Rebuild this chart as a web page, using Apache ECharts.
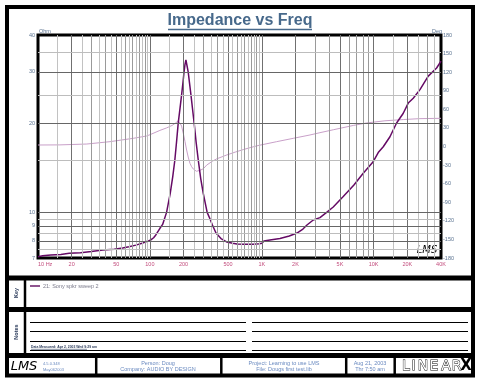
<!DOCTYPE html>
<html>
<head>
<meta charset="utf-8">
<script src="https://cdn.jsdelivr.net/npm/echarts@6/dist/echarts.min.js"></script>
<style>html,body{margin:0;padding:0;background:#fff}#c{width:480px;height:384px}</style>
</head>
<body>
<div id="c"></div>
<script>
// ---- data ----
const impedanceFreqHz = [10, 11, 13, 16, 19, 24, 30, 38, 48, 57, 65, 75, 85, 92, 97, 102, 108, 113, 123, 130, 141, 152, 160, 167, 173, 179, 186, 192, 198, 202, 206, 210, 214, 220, 226, 233, 241, 249, 259, 271, 285, 300, 325, 345, 362, 390, 432, 489, 550, 600, 700, 834, 950, 1004, 1046, 1183, 1455, 1762, 2064, 2334, 2535, 2886, 3312, 3800, 4355, 5350, 6664, 8070, 9860, 10990, 12190, 13990, 16040, 18400, 20380, 22590, 25940, 30760, 36560, 40000];
const impedanceOhm = [7.07, 7.12, 7.17, 7.2, 7.26, 7.3, 7.36, 7.45, 7.5, 7.57, 7.64, 7.74, 7.85, 7.95, 8.0, 8.06, 8.2, 8.38, 8.83, 9.1, 10.0, 11.6, 13.2, 15, 17.3, 20, 22.6, 25, 27.8, 30, 31.8, 32.9, 32.5, 30, 27.5, 25, 22.3, 20, 17.3, 15, 13, 11.6, 10, 9.5, 9.06, 8.51, 8.15, 7.93, 7.85, 7.81, 7.79, 7.79, 7.82, 7.85, 7.99, 8.06, 8.15, 8.31, 8.51, 8.78, 9.06, 9.42, 9.6, 10.0, 10.43, 11.32, 12.38, 13.58, 14.82, 15.96, 16.7, 18.06, 20.1, 21.7, 23.5, 24.4, 26.1, 29.0, 30.9, 32.6];
const phaseFreqHz = [10, 15.7, 27.3, 44, 71, 93.6, 100, 123, 141, 158, 170, 179, 186, 192, 199, 206, 213, 220, 228, 236, 245, 261, 280, 300, 322, 360, 395, 486, 580, 683, 800, 925, 1360, 1913, 2697, 3312, 4355, 6577, 8650, 12620, 18400, 25940, 40000];
const phaseDeg = [2.4, 2.6, 4, 7.8, 13.2, 17, 19, 26, 30, 34, 38, 41.5, 37.5, 33, 21, 8, -5.6, -17, -27, -32.6, -36.5, -40, -38.5, -36, -30, -24, -20, -13.7, -9, -5, -1.5, 1.5, 7.8, 13.2, 18.6, 22.3, 27, 34, 38, 41.5, 43.5, 45, 45.5];

const xTickValues = [10, 20, 50, 100, 200, 500, 1000, 2000, 5000, 10000, 20000, 40000];
const xTickLabels = ['10 Hz', '20', '50', '100', '200', '500', '1K', '2K', '5K', '10K', '20K', '40K'];
const xGridMajor = [20, 50, 100, 200, 500, 1000, 2000, 5000, 10000, 20000];
const xGridMinor = [30, 40, 60, 70, 80, 90, 300, 400, 600, 700, 800, 900, 3000, 4000, 6000, 7000, 8000, 9000, 30000];
const xGridHalf = [15, 25, 35, 45, 55, 65, 75, 85, 95, 150, 250, 350, 450, 550, 650, 750, 850, 950, 15000, 25000, 35000];
const yTickValues = [40, 30, 20, 10, 9, 8, 7];
const yGridMajor = [30, 20, 10, 9, 8];
const yGridMinor = [35, 25, 15, 9.5, 8.5, 7.5];

const LABEL_BLUE = '#5b7391';
const LABEL_PINK = '#c24c7c';
const FONT = 'Liberation Sans, Arial, sans-serif';
const CLEAR = 'rgba(255,255,255,0)';

const ml = [];
xGridHalf.forEach(v => ml.push({xAxis: v, lineStyle: {color: '#c2c2c2', width: 1, type: 'solid'}, label: {show: false}}));
xGridMinor.forEach(v => ml.push({xAxis: v, lineStyle: {color: '#9a9a9a', width: 1, type: 'solid'}, label: {show: false}}));
xGridMajor.forEach(v => ml.push({xAxis: v, lineStyle: {color: '#707070', width: 1, type: 'solid'}, label: {show: false}}));
yGridMinor.forEach(v => ml.push({yAxis: v, lineStyle: {color: '#bdbdbd', width: 1, type: 'solid'}, label: {show: false}}));
yGridMajor.forEach(v => ml.push({yAxis: v, lineStyle: {color: '#666666', width: 1, type: 'solid'}, label: {show: false}}));
xTickValues.forEach((v, i) => ml.push({xAxis: v, lineStyle: {color: CLEAR, width: 1}, label: {show: true, position: 'start', formatter: xTickLabels[i], color: LABEL_PINK, fontSize: 5.5, fontFamily: FONT, distance: 3, align: i === 0 ? 'left' : 'center'}}));
yTickValues.forEach(v => ml.push({yAxis: v, lineStyle: {color: CLEAR, width: 1}, label: {show: true, position: 'start', formatter: String(v), color: LABEL_BLUE, fontSize: 5.5, fontFamily: FONT, distance: 3}}));

const chart = echarts.init(document.getElementById('c'), null, {renderer: 'canvas'});

const T = (x, y, text, o) => Object.assign({type: 'text', x: x, y: y, silent: true,
  style: Object.assign({text: text, fill: LABEL_BLUE, fontSize: 5.5, fontFamily: FONT, align: 'left', verticalAlign: 'middle'}, (o && o.style) || {})},
  o && o.rotation !== undefined ? {rotation: o.rotation} : {});
const L = (x1, y1, x2, y2, w, c) => ({type: 'line', silent: true, shape: {x1: x1, y1: y1, x2: x2, y2: y2}, style: {stroke: c || '#000', lineWidth: w}});

const logoLetters = ['L', 'I', 'N', 'E', 'A', 'R'];
const logoX = [406, 413.5, 423, 434, 446, 456.5];

const graphics = [
  {type: 'rect', silent: true, shape: {x: 7, y: 7, width: 466, height: 368.5}, style: {fill: 'none', stroke: '#000', lineWidth: 4}},
  L(7, 278, 473, 278, 5),
  L(7, 309.5, 473, 309.5, 5),
  L(7, 355.5, 473, 355.5, 5),
  L(25, 278, 25, 355, 2.5),
  // title
  T(240, 21, 'Impedance vs Freq', {style: {fill: '#47698b', fontSize: 16, fontWeight: 'bold', align: 'center'}}),
  L(168, 29.5, 312, 29.5, 1.5, '#47698b'),
  T(39, 31, 'Ohm'),
  T(442, 31, 'Deg', {style: {align: 'right'}}),
  // LMS mark inside plot
  T(427, 250, 'LMS', {style: {fill: '#000', fontSize: 10, fontStyle: 'italic', align: 'center', fontFamily: 'DejaVu Sans'}}),
  // key panel
  T(16, 293, 'Key', {rotation: Math.PI / 2, style: {fill: '#2a3a5a', align: 'center', fontWeight: 'bold'}}),
  L(30, 286, 40, 286, 1.5, '#6a1b6a'),
  T(43, 286, '21: Sony spkr sweep 2', {style: {fill: '#7a7a8a'}}),
  // notes panel
  T(16, 332, 'Notes', {rotation: Math.PI / 2, style: {fill: '#2a3a5a', align: 'center', fontWeight: 'bold'}}),
  L(30, 322.5, 246, 322.5, 1), L(252, 322.5, 468, 322.5, 1),
  L(30, 331.5, 246, 331.5, 1), L(252, 331.5, 468, 331.5, 1),
  L(30, 341.5, 246, 341.5, 1), L(252, 341.5, 468, 341.5, 1),
  L(30, 350.5, 246, 350.5, 1), L(252, 350.5, 468, 350.5, 1),
  T(31, 347.5, 'Data Measured: Apr 2, 2003 Wed 9:29 am', {style: {fill: '#2a3a5a', fontSize: 3.4, fontWeight: 'bold'}}),
  L(31, 349.3, 87, 349.3, 0.6, '#2a3a5a'),
  // footer
  L(96.2, 355, 96.2, 375, 2.5), L(221.3, 355, 221.3, 375, 2.5), L(346.2, 355, 346.2, 375, 2.5), L(394.7, 355, 394.7, 375, 2.5),
  T(24, 366.5, 'LMS', {style: {fill: '#000', fontSize: 13, fontStyle: 'italic', align: 'center', fontFamily: 'DejaVu Sans'}}),
  T(43, 363.5, '4.5.0.348', {style: {fill: '#6a8ac0', fontSize: 4}}),
  T(43, 369.5, 'May062003', {style: {fill: '#6a8ac0', fontSize: 4}}),
  T(158, 363.5, 'Person: Doug', {style: {fill: '#6a8ac0', align: 'center'}}),
  T(158, 369.5, 'Company: AUDIO BY DESIGN', {style: {fill: '#6a8ac0', align: 'center'}}),
  T(284, 363.5, 'Project: Learning to use LMS', {style: {fill: '#6a8ac0', align: 'center'}}),
  T(284, 369.5, 'File: Dougs first test.lib', {style: {fill: '#6a8ac0', align: 'center'}}),
  T(370, 363.5, 'Aug 21, 2003', {style: {fill: '#6a8ac0', align: 'center'}}),
  T(370, 369.5, 'Thr 7:50 am', {style: {fill: '#6a8ac0', align: 'center'}})
];
logoLetters.forEach((ch, i) => graphics.push(T(logoX[i], 366, ch, {style: {fill: '#fff', stroke: '#000', lineWidth: 0.9, fontSize: 14, align: 'center', fontFamily: 'DejaVu Sans'}})));
graphics.push(T(466, 366, 'X', {style: {fill: '#000', fontSize: 15, fontWeight: 'bold', align: 'center', fontFamily: 'DejaVu Sans'}}));

const hidden = {axisLabel: {show: false}, axisTick: {show: false}, axisLine: {show: false}, splitLine: {show: false}, minorTick: {show: false}, minorSplitLine: {show: false}};

chart.setOption({
  animation: false,
  backgroundColor: '#ffffff',
  grid: {left: 38, top: 35, width: 403, height: 223, show: true, borderColor: '#000', borderWidth: 3, backgroundColor: 'rgba(0,0,0,0)', containLabel: false},
  xAxis: Object.assign({type: 'log', logBase: 10, min: 10, max: 40000}, hidden),
  yAxis: [
    Object.assign({type: 'log', logBase: 10, min: 7, max: 40}, hidden),
    {type: 'value', min: -180, max: 180, interval: 30, position: 'right',
     axisLine: {show: false}, axisTick: {show: false}, splitLine: {show: false},
     axisLabel: {fontSize: 5.5, color: LABEL_BLUE, margin: 2, fontFamily: FONT}}
  ],
  series: [
    {type: 'line', name: 'grid', data: [], z: 1, silent: true,
     markLine: {silent: true, symbol: ['none', 'none'], animation: false, data: ml}},
    {type: 'line', name: 'phase', yAxisIndex: 1, z: 2, silent: true, showSymbol: false, symbol: 'none',
     data: phaseFreqHz.map((f, i) => [f, phaseDeg[i]]),
     lineStyle: {color: '#c9a0c9', width: 1}},
    {type: 'line', name: '21: Sony spkr sweep 2', yAxisIndex: 0, z: 3, silent: true, showSymbol: false, symbol: 'none',
     data: impedanceFreqHz.map((f, i) => [f, impedanceOhm[i]]),
     lineStyle: {color: '#650a65', width: 1.5}}
  ],
  graphic: graphics
});
</script>
</body>
</html>
